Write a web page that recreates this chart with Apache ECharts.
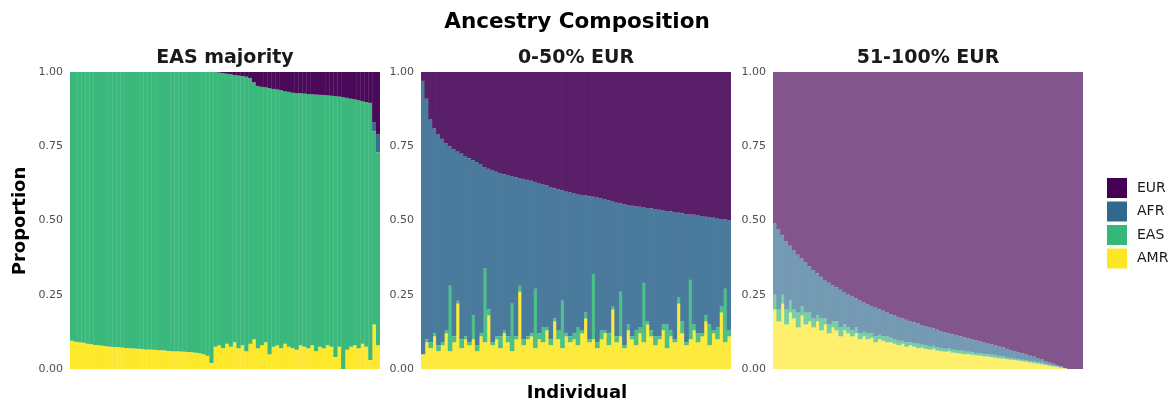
<!DOCTYPE html>
<html>
<head>
<meta charset="utf-8">
<script src="https://cdn.jsdelivr.net/npm/echarts@6/dist/echarts.min.js"></script>
<style>html,body{margin:0;padding:0;background:#fff;}#chart{width:1172px;height:400px;}</style>
</head>
<body>
<div id="chart"></div>
<script>
// ---------- Data ----------
const panelTitles = ['EAS majority', '0-50% EUR', '51-100% EUR'];
const ancestries = ['EUR', 'AFR', 'EAS', 'AMR'];
const yTicks = [0, 0.25, 0.5, 0.75, 1];

// Panel 1: EAS majority
const AMR1 = [0.095,0.092,0.09,0.088,0.085,0.083,0.081,0.08,0.078,0.077,
  0.075,0.074,0.073,0.072,0.071,0.07,0.069,0.068,0.067,0.066,
  0.066,0.065,0.064,0.063,0.062,0.061,0.06,0.06,0.059,0.058,
  0.057,0.056,0.055,0.053,0.05,0.045,0.02,0.075,0.08,0.07,
  0.085,0.075,0.09,0.07,0.08,0.06,0.085,0.1,0.07,0.08,
  0.09,0.05,0.075,0.08,0.07,0.085,0.075,0.07,0.065,0.08,
  0.075,0.07,0.08,0.06,0.075,0.07,0.08,0.075,0.04,0.075,
  0.0,0.065,0.075,0.08,0.07,0.085,0.075,0.03,0.15,0.08];
const EAS1 = [0.905,0.908,0.91,0.912,0.915,0.917,0.919,0.92,0.922,0.923,
  0.925,0.926,0.927,0.928,0.929,0.93,0.931,0.932,0.933,0.934,
  0.934,0.935,0.936,0.937,0.938,0.939,0.94,0.94,0.941,0.942,
  0.943,0.944,0.945,0.947,0.95,0.955,0.98,0.925,0.918,0.926,
  0.909,0.917,0.9,0.918,0.906,0.924,0.895,0.865,0.883,0.87,
  0.858,0.896,0.868,0.861,0.868,0.85,0.858,0.86,0.864,0.848,
  0.852,0.856,0.845,0.864,0.848,0.852,0.841,0.845,0.879,0.842,
  0.915,0.848,0.835,0.828,0.835,0.817,0.824,0.866,0.65,0.65];
const AFR1 = [0,0,0,0,0,0,0,0,0,0, 0,0,0,0,0,0,0,0,0,0,
  0,0,0,0,0,0,0,0,0,0, 0,0,0,0,0,0,0,0,0,0,
  0,0,0,0,0,0,0,0,0,0, 0,0,0,0,0,0,0,0,0,0,
  0,0,0,0,0,0,0,0,0,0, 0,0,0,0,0,0,0,0,0.03,0.06];
const EUR1 = [0,0,0,0,0,0,0,0,0,0, 0,0,0,0,0,0,0,0,0,0,
  0,0,0,0,0,0,0,0,0,0, 0,0,0,0,0,0,0,0,0.002,0.004,
  0.006,0.008,0.01,0.012,0.014,0.016,0.02,0.035,0.047,0.05,
  0.052,0.054,0.057,0.059,0.062,0.065,0.067,0.07,0.071,0.072,
  0.073,0.074,0.075,0.076,0.077,0.078,0.079,0.08,0.081,0.083,
  0.085,0.087,0.09,0.092,0.095,0.098,0.101,0.104,0.17,0.21];

// Panel 2: 0-50% EUR
const AMR2 = [0.05,0.09,0.07,0.11,0.06,0.08,0.12,0.06,0.09,0.22,
  0.07,0.1,0.08,0.1,0.06,0.11,0.09,0.18,0.08,0.1,
  0.07,0.12,0.09,0.06,0.1,0.26,0.08,0.1,0.11,0.07,
  0.1,0.09,0.13,0.08,0.16,0.1,0.07,0.11,0.09,0.1,
  0.08,0.12,0.17,0.09,0.1,0.07,0.1,0.12,0.08,0.2,
  0.09,0.11,0.07,0.13,0.1,0.08,0.12,0.09,0.15,0.11,
  0.08,0.1,0.13,0.07,0.11,0.09,0.22,0.12,0.08,0.1,
  0.13,0.09,0.11,0.16,0.08,0.12,0.1,0.19,0.09,0.11];
const EAS2 = [0.0,0.01,0.02,0.01,0.02,0.01,0.01,0.22,0.02,0.01,
  0.03,0.01,0.01,0.08,0.02,0.01,0.25,0.02,0.01,0.01,
  0.04,0.01,0.02,0.16,0.01,0.02,0.02,0.01,0.01,0.2,
  0.02,0.05,0.01,0.02,0.01,0.03,0.16,0.01,0.02,0.02,
  0.06,0.01,0.02,0.01,0.22,0.02,0.03,0.01,0.04,0.01,
  0.02,0.15,0.01,0.02,0.01,0.05,0.02,0.2,0.01,0.02,
  0.03,0.01,0.02,0.08,0.02,0.01,0.02,0.04,0.01,0.2,
  0.02,0.03,0.01,0.02,0.07,0.01,0.04,0.02,0.18,0.02];
const AFR2 = [0.92,0.81,0.75,0.69,0.71,0.685,0.63,0.47,0.63,0.502,
  0.625,0.607,0.62,0.523,0.617,0.57,0.34,0.474,0.579,0.554,
  0.55,0.526,0.542,0.429,0.536,0.363,0.54,0.527,0.514,0.36,
  0.506,0.482,0.478,0.513,0.439,0.475,0.372,0.479,0.485,0.471,
  0.448,0.456,0.394,0.482,0.26,0.487,0.444,0.441,0.448,0.354,
  0.45,0.297,0.474,0.402,0.44,0.418,0.406,0.254,0.382,0.41,
  0.428,0.426,0.384,0.382,0.4,0.428,0.286,0.364,0.432,0.22,
  0.369,0.397,0.395,0.333,0.361,0.379,0.367,0.295,0.233,0.37];
const EUR2 = [0.03,0.09,0.16,0.19,0.21,0.225,0.24,0.25,0.26,0.268,
  0.275,0.283,0.29,0.297,0.303,0.31,0.32,0.326,0.331,0.336,
  0.34,0.344,0.348,0.351,0.354,0.357,0.36,0.363,0.366,0.37,
  0.374,0.378,0.382,0.387,0.391,0.395,0.398,0.401,0.405,0.409,
  0.412,0.414,0.416,0.418,0.42,0.423,0.426,0.429,0.432,0.436,
  0.44,0.443,0.446,0.448,0.45,0.452,0.454,0.456,0.458,0.46,
  0.462,0.464,0.466,0.468,0.47,0.472,0.474,0.476,0.478,0.48,
  0.481,0.483,0.485,0.487,0.489,0.491,0.493,0.495,0.497,0.5];

// Panel 3: 51-100% EUR
const AMR3 = [0.2,0.16,0.22,0.15,0.19,0.17,0.14,0.18,0.15,0.16,
  0.14,0.16,0.13,0.15,0.12,0.14,0.13,0.11,0.13,0.12,
  0.11,0.12,0.1,0.11,0.1,0.105,0.09,0.1,0.095,0.09,
  0.09,0.085,0.08,0.085,0.075,0.08,0.075,0.07,0.072,0.068,
  0.065,0.068,0.062,0.06,0.058,0.06,0.055,0.054,0.052,0.05,
  0.05,0.048,0.046,0.045,0.043,0.042,0.04,0.038,0.036,0.035,
  0.033,0.031,0.03,0.028,0.026,0.024,0.022,0.02,0.018,0.016,
  0.014,0.011,0.009,0.007,0.004,0.002,0,0,0,0];
const EAS3 = [0.05,0.04,0.03,0.05,0.04,0.03,0.05,0.03,0.04,0.03,
  0.03,0.02,0.04,0.02,0.03,0.02,0.03,0.03,0.02,0.02,
  0.02,0.02,0.02,0.015,0.02,0.015,0.02,0.015,0.015,0.02,
  0.015,0.015,0.015,0.01,0.015,0.01,0.012,0.015,0.01,0.012,
  0.01,0.01,0.01,0.01,0.01,0.01,0.01,0.01,0.01,0.01,
  0.008,0.008,0.008,0.008,0.008,0.008,0.008,0.008,0.008,0.008,
  0.005,0.005,0.005,0.005,0.005,0.005,0.005,0.005,0.005,0.005,
  0.003,0.003,0.002,0.002,0.001,0,0,0,0,0];
const AFR3 = [0.24,0.27,0.2,0.23,0.185,0.2,0.195,0.162,0.17,0.156,
  0.163,0.142,0.141,0.13,0.14,0.122,0.115,0.127,0.109,0.111,
  0.114,0.098,0.111,0.099,0.098,0.092,0.096,0.086,0.086,0.08,
  0.08,0.08,0.08,0.075,0.076,0.072,0.07,0.068,0.066,0.064,
  0.065,0.058,0.06,0.058,0.056,0.051,0.052,0.049,0.048,0.047,
  0.046,0.045,0.043,0.041,0.04,0.037,0.035,0.033,0.032,0.029,
  0.03,0.028,0.025,0.024,0.022,0.02,0.018,0.016,0.014,0.011,
  0.01,0.008,0.007,0.004,0.003,0.001,0,0,0,0];
const EUR3 = [0.51,0.53,0.55,0.57,0.585,0.6,0.615,0.628,0.64,0.654,
  0.667,0.678,0.689,0.7,0.71,0.718,0.725,0.733,0.741,0.749,
  0.756,0.762,0.769,0.776,0.782,0.788,0.794,0.799,0.804,0.81,
  0.815,0.82,0.825,0.83,0.834,0.838,0.843,0.847,0.852,0.856,
  0.86,0.864,0.868,0.872,0.876,0.879,0.883,0.887,0.89,0.893,
  0.896,0.899,0.903,0.906,0.909,0.913,0.917,0.921,0.924,0.928,
  0.932,0.936,0.94,0.943,0.947,0.951,0.955,0.959,0.963,0.968,
  0.973,0.978,0.982,0.987,0.992,0.997,1,1,1,1];

// ---------- Styling ----------
const colors = { EUR: '#440154', AFR: '#31688E', EAS: '#35B779', AMR: '#FDE725' };
const FONT = 'DejaVu Sans';
// opaque equivalent of the colour drawn with alpha over white
function fade(hex, a) {
  const n = parseInt(hex.slice(1), 16);
  const ch = [(n >> 16) & 255, (n >> 8) & 255, n & 255].map(c => Math.round(a * c + (1 - a) * 255));
  return 'rgb(' + ch.join(',') + ')';
}
const panels = [
  { data: { AMR: AMR1, EAS: EAS1, AFR: AFR1, EUR: EUR1 }, left: 70, alpha: 0.97, minW: 4.15 },
  { data: { AMR: AMR2, EAS: EAS2, AFR: AFR2, EUR: EUR2 }, left: 421, alpha: 0.88, minW: 4.6 },
  { data: { AMR: AMR3, EAS: EAS3, AFR: AFR3, EUR: EUR3 }, left: 773, alpha: 0.67, minW: 4.8 }
];
const PW = 310, TOP = 72, PH = 297;

const chart = echarts.init(document.getElementById('chart'), null, { renderer: 'canvas' });

const grids = panels.map(p => ({ left: p.left, top: TOP, width: PW, height: PH, containLabel: false }));
const xAxes = panels.map((p, i) => ({
  type: 'category', gridIndex: i,
  data: p.data.AMR.map((_, k) => 'ind' + (i + 1) + '_' + (k + 1)),
  show: false
}));
const yAxes = panels.map((p, i) => ({
  type: 'value', gridIndex: i, min: 0, max: 1, interval: 0.25,
  axisLabel: { formatter: v => v.toFixed(2), fontSize: 11, color: '#4d4d4d', margin: 7, fontFamily: FONT },
  axisLine: { show: false }, axisTick: { show: false }, splitLine: { show: false }
}));
const stackOrder = ['AMR', 'EAS', 'AFR', 'EUR'];
const series = [];
panels.forEach((p, i) => {
  stackOrder.forEach(name => {
    series.push({
      type: 'bar', name, xAxisIndex: i, yAxisIndex: i, stack: 'p' + i,
      data: p.data[name], barCategoryGap: '0%', barMinWidth: p.minW,
      itemStyle: { color: fade(colors[name], p.alpha) },
      emphasis: { disabled: true }, silent: true
    });
  });
});

const graphic = [
  { type: 'text', x: 577, y: 22, style: { text: 'Ancestry Composition', font: 'bold 21.5px "DejaVu Sans"', fill: '#000', align: 'center', verticalAlign: 'middle' } }
];
panels.forEach((p, i) => {
  graphic.push({ type: 'text', x: p.left + PW / 2, y: 58,
    style: { text: panelTitles[i], font: 'bold 19px "DejaVu Sans"', fill: '#1a1a1a', align: 'center', verticalAlign: 'middle' } });
});
graphic.push({ type: 'text', x: 20, y: 221, rotation: Math.PI / 2,
  style: { text: 'Proportion', font: 'bold 18px "DejaVu Sans"', fill: '#000', align: 'center', verticalAlign: 'middle' } });
graphic.push({ type: 'text', x: 577, y: 393,
  style: { text: 'Individual', font: 'bold 18px "DejaVu Sans"', fill: '#000', align: 'center', verticalAlign: 'middle' } });

chart.setOption({
  animation: false,
  backgroundColor: '#fff',
  textStyle: { fontFamily: FONT },
  grid: grids, xAxis: xAxes, yAxis: yAxes, series,
  legend: {
    orient: 'vertical', left: 1107, top: 178, padding: 0, itemWidth: 20, itemHeight: 20, itemGap: 3.5,
    icon: 'rect', selectedMode: false,
    textStyle: { fontSize: 14, color: '#1a1a1a', fontFamily: FONT, padding: [0, 0, 0, 5] },
    data: ancestries.map(a => ({ name: a, itemStyle: { color: colors[a], opacity: 1 } }))
  },
  graphic
});
</script>
</body>
</html>
